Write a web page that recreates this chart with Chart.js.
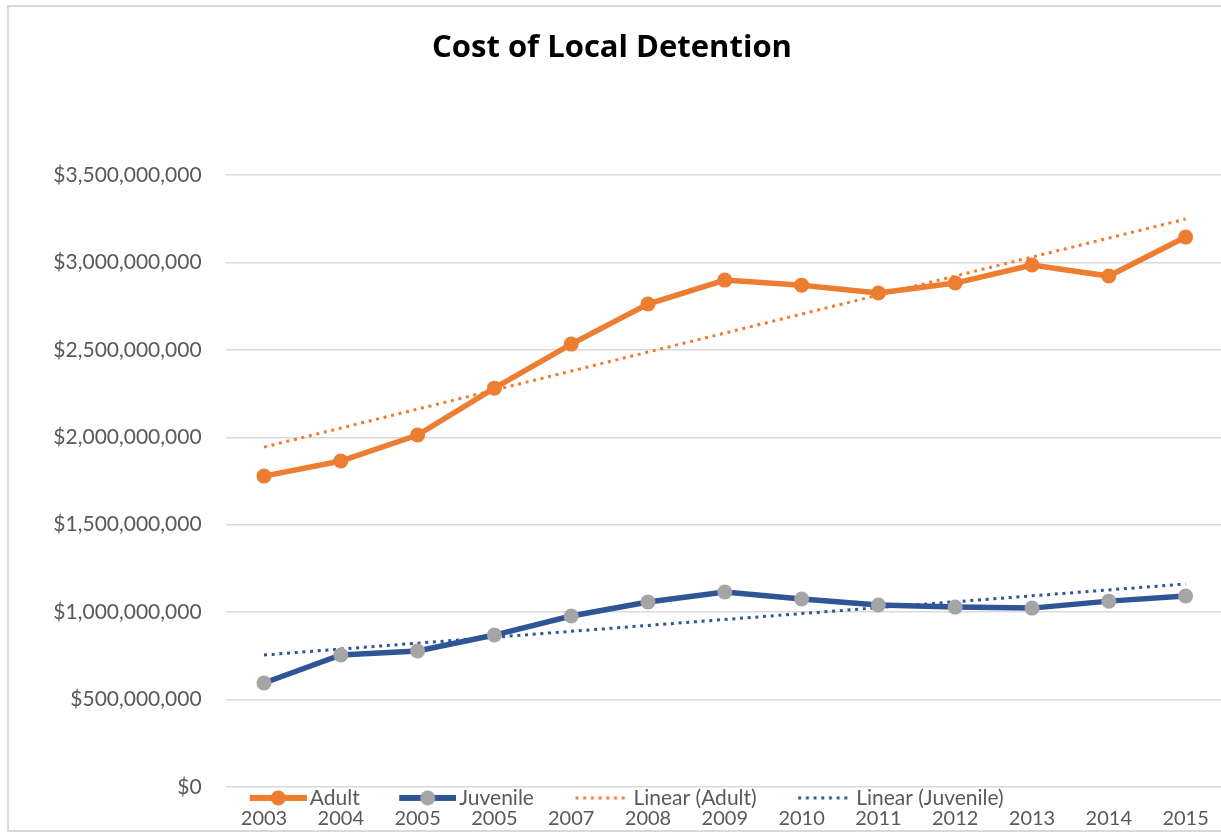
<!DOCTYPE html>
<html>
<head>
<meta charset="utf-8">
<script src="https://cdn.jsdelivr.net/npm/chart.js@4/dist/chart.umd.min.js"></script>
<style>
  html, body { margin: 0; padding: 0; background: #fff; overflow: hidden; }
  #wrap { position: relative; width: 1221px; height: 836px; overflow: hidden; background: #fff; }
  #frame { position: absolute; left: 7px; top: 5px; width: 1300px; height: 827px; border: 2px solid #D9D9D9; box-sizing: border-box; }
  #c { position: absolute; left: 0; top: 0; }
</style>
</head>
<body>
<div id="wrap">
  <div id="frame"></div>
  <canvas id="c" width="1240" height="836"></canvas>
</div>
<script>
// ---- data ----
const years = ['2003','2004','2005','2005','2007','2008','2009','2010','2011','2012','2013','2014','2015'];
const adult = [1.778e9, 1.864e9, 2.013e9, 2.281e9, 2.533e9, 2.762e9, 2.899e9, 2.870e9, 2.825e9, 2.882e9, 2.985e9, 2.922e9, 3.145e9];
const juvenile = [0.595e9, 0.755e9, 0.778e9, 0.869e9, 0.978e9, 1.058e9, 1.115e9, 1.075e9, 1.041e9, 1.029e9, 1.023e9, 1.063e9, 1.092e9];
// trendline end points (straight line between them)
const adultTrend = [1.944e9, null, null, null, null, null, null, null, null, null, null, null, 3.248e9];
const juvenileTrend = [0.755e9, null, null, null, null, null, null, null, null, null, null, null, 1.161e9];
const seriesNames = ['Adult', 'Juvenile', 'Linear (Adult)', 'Linear (Juvenile)'];
const yMin = 0, yMax = 3.5e9, yStep = 5e8;

// ---- styles ----
const ORANGE = '#ED7D31';
const BLUE = '#2F5597';
const GRAY = '#A5A5A5';
const FONT = 'Lato, "Open Sans", sans-serif';
const LEG_FS = 21;
const LEG_PAD = 10;
const LEG_W = 79;            // reserved box width per legend item
const LEG_IMG = LEG_W + LEG_FS - 6; // image width so marker ends 3px before text

function legendImage(kind) {
  const W = LEG_IMG, H = 18, c = document.createElement('canvas');
  c.width = W; c.height = H;
  const g = c.getContext('2d');
  const x0 = W - 57, x1 = W;
  if (kind === 'adult' || kind === 'juv') {
    g.strokeStyle = kind === 'adult' ? ORANGE : BLUE;
    g.lineWidth = 6;
    g.beginPath(); g.moveTo(x0, H / 2); g.lineTo(x1, H / 2); g.stroke();
    g.fillStyle = kind === 'adult' ? ORANGE : GRAY;
    g.beginPath(); g.arc((x0 + x1) / 2, H / 2, 7.5, 0, Math.PI * 2); g.fill();
  } else {
    g.strokeStyle = kind === 'tadult' ? ORANGE : BLUE;
    g.lineWidth = 3;
    g.setLineDash([3, 4.7]);
    g.beginPath(); g.moveTo(x0 + 2, H / 2); g.lineTo(x1 - 2, H / 2); g.stroke();
  }
  return c;
}
const legendImgs = [legendImage('adult'), legendImage('juv'), legendImage('tadult'), legendImage('tjuv')];

const CHART_BOTTOM = 787;
const LEGEND_TEXT_Y = 800;

const legendShift = {
  id: 'legendShift',
  afterLayout(chart) {
    const l = chart.legend;
    if (l) {
      const h = l.height;
      const itemH = LEG_FS * 1.2;
      l.top = LEGEND_TEXT_Y - LEG_PAD - itemH / 2;
      l.bottom = l.top + h;
    }
    const x = chart.scales.x;
    x.bottom = chart.height;
    x.height = x.bottom - x.top;
  }
};

new Chart(document.getElementById('c'), {
  type: 'line',
  data: {
    labels: years,
    datasets: [
      { label: seriesNames[0], data: adult, borderColor: ORANGE, backgroundColor: ORANGE,
        borderWidth: 5.5, pointRadius: 7.5, pointBackgroundColor: ORANGE, pointBorderColor: ORANGE, pointBorderWidth: 0, tension: 0, order: 2 },
      { label: seriesNames[1], data: juvenile, borderColor: BLUE, backgroundColor: GRAY,
        borderWidth: 5.5, pointRadius: 7.5, pointBackgroundColor: GRAY, pointBorderColor: GRAY, pointBorderWidth: 0, tension: 0, order: 1 },
      { label: seriesNames[2], data: adultTrend, borderColor: ORANGE, borderWidth: 3, borderDash: [3, 4.7],
        pointRadius: 0, spanGaps: true, tension: 0, order: 3 },
      { label: seriesNames[3], data: juvenileTrend, borderColor: BLUE, borderWidth: 3, borderDash: [3, 4.7],
        pointRadius: 0, spanGaps: true, tension: 0, order: 3 }
    ]
  },
  options: {
    responsive: false,
    animation: false,
    devicePixelRatio: 1,
    layout: { padding: { top: 29.4, left: 0, right: 16, bottom: 0 } },
    plugins: {
      title: {
        display: true,
        text: 'Cost of Local Detention',
        color: '#000',
        font: { family: '"Open Sans", Lato, sans-serif', size: 31, weight: 'bold', lineHeight: 1.2 },
        padding: { top: 0, bottom: 108.4 }
      },
      legend: {
        display: true,
        position: 'bottom',
        labels: {
          color: '#595959',
          font: { family: FONT, size: LEG_FS },
          padding: LEG_PAD,
          usePointStyle: true,
          pointStyleWidth: LEG_W,
          generateLabels(chart) {
            return chart.data.datasets.map((ds, i) => ({
              text: ds.label,
              fillStyle: ds.borderColor,
              strokeStyle: ds.borderColor,
              lineWidth: 0,
              pointStyle: legendImgs[i],
              hidden: false,
              datasetIndex: i,
              fontColor: '#595959'
            }));
          }
        }
      },
      tooltip: { enabled: false }
    },
    scales: {
      x: {
        offset: true,
        grid: { display: false, drawTicks: false },
        border: { display: false },
        ticks: { color: '#595959', font: { family: FONT, size: 20 }, padding: 20, autoSkip: false, maxRotation: 0 },
        afterFit(s) { s.height = Math.max(1, 836 - CHART_BOTTOM - s.chart.legend.height); }
      },
      y: {
        min: yMin, max: yMax,
        grid: { color: '#D9D9D9', lineWidth: 1.5, drawTicks: false },
        border: { display: false },
        ticks: {
          stepSize: yStep,
          color: '#595959',
          font: { family: FONT, size: 21 },
          padding: 24,
          callback: v => '$' + Number(v).toLocaleString('en-US')
        },
        afterFit(s) { s.width = 225.6; }
      }
    }
  },
  plugins: [legendShift]
});
</script>
</body>
</html>
